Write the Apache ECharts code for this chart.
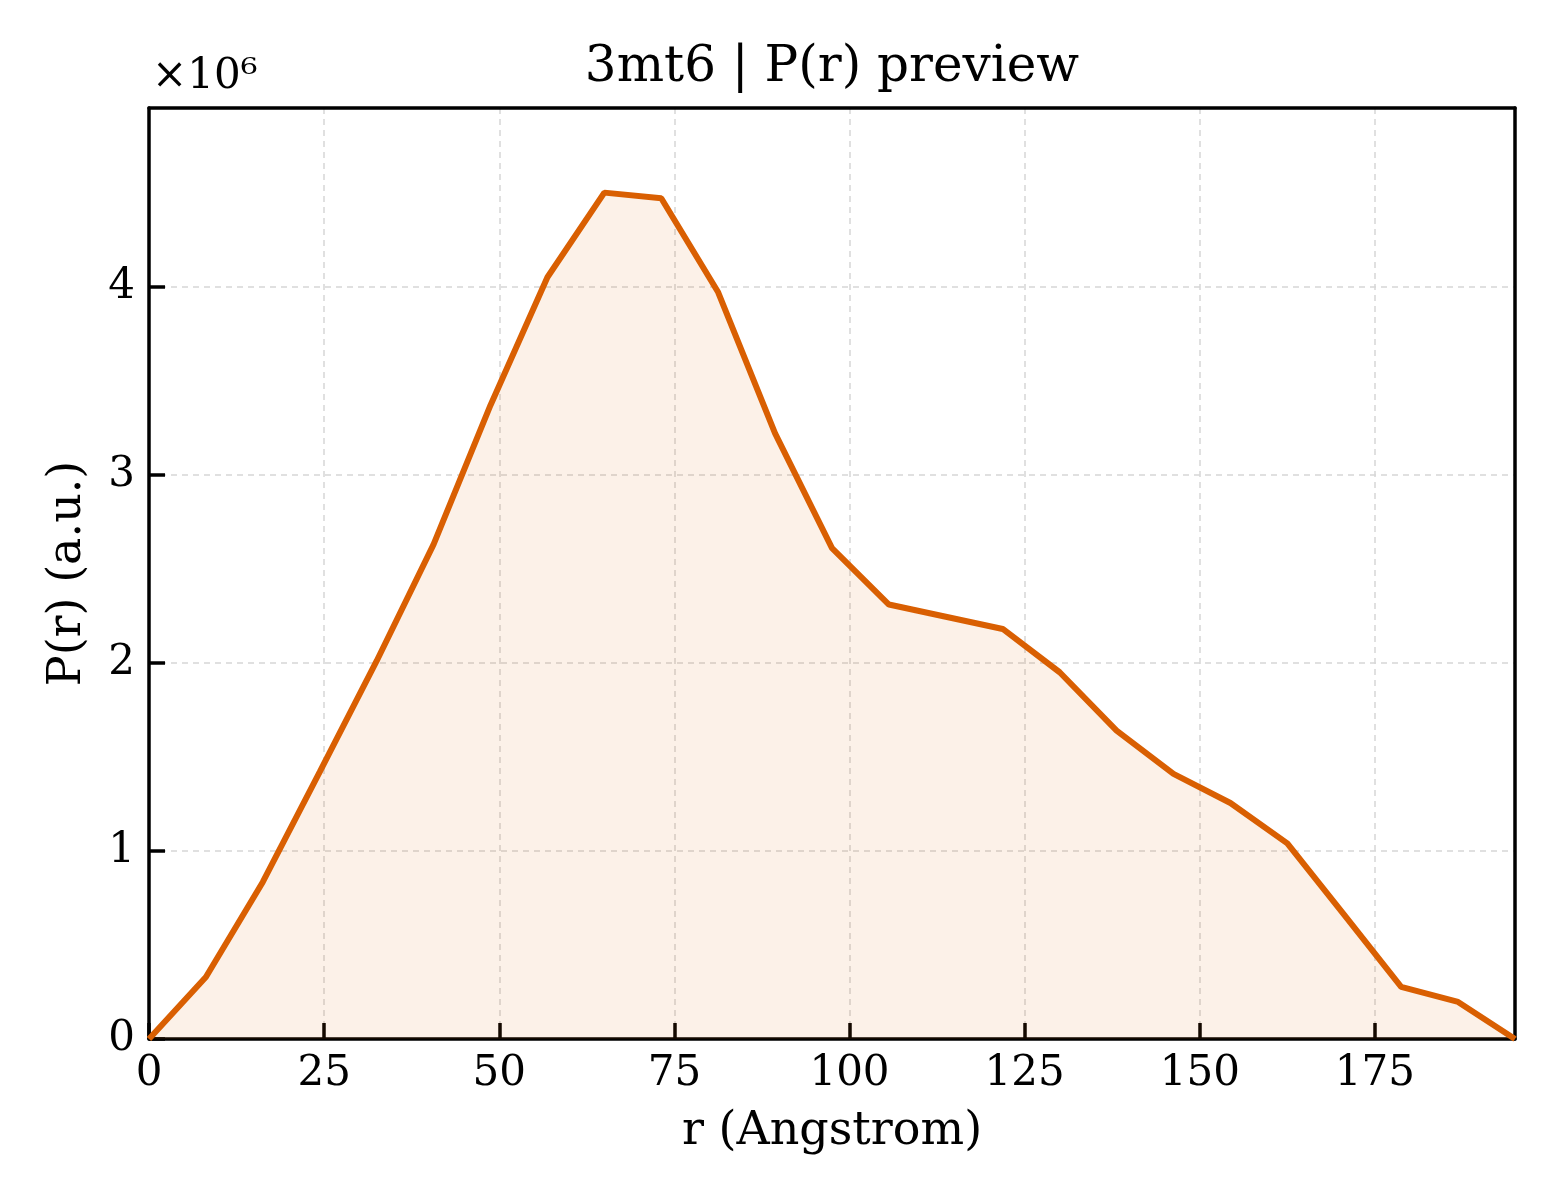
<!DOCTYPE html>
<html>
<head>
<meta charset="utf-8">
<title>3mt6 | P(r) preview</title>
<script src="https://cdn.jsdelivr.net/npm/echarts@6/dist/echarts.min.js"></script>
<style>
  html, body { margin: 0; padding: 0; background: #fff; }
  #chart { width: 1560px; height: 1200px; }
</style>
</head>
<body>
<div id="chart"></div>
<script>
// r in Angstrom, P(r) in arbitrary units
var rValues = [0, 8.125, 16.25, 24.375, 32.5, 40.625, 48.75, 56.875, 65, 73.125,
  81.25, 89.375, 97.5, 105.625, 113.75, 121.875, 130, 138.125, 146.25, 154.375,
  162.5, 170.625, 178.75, 186.875, 195];
var prValues = [0, 0.33e6, 0.835e6, 1.42e6, 2.01e6, 2.63e6, 3.37e6, 4.05e6, 4.50e6, 4.47e6,
  3.97e6, 3.22e6, 2.61e6, 2.31e6, 2.245e6, 2.18e6, 1.95e6, 1.64e6, 1.41e6, 1.255e6,
  1.04e6, 0.66e6, 0.277e6, 0.197e6, 0];

var FONT = '"DejaVu Serif", serif';
var LINE = '#d95f02';

var chart = echarts.init(document.getElementById('chart'));

var points = rValues.map(function (r, i) { return [r, prValues[i]]; });

var tick = { show: true, inside: true, length: 16, lineStyle: { color: '#000', width: 3.5 } };
var frameLine = { show: true, onZero: false, lineStyle: { color: '#000', width: 3.5 } };
var grid = { show: true, lineStyle: { color: '#d6d6d6', width: 1.5, type: [6, 5] } };

chart.setOption({
  animation: false,
  backgroundColor: '#ffffff',
  textStyle: { fontFamily: FONT },
  grid: { left: 149, right: 45, top: 108, bottom: 161 },
  graphic: [
    {
      type: 'text', x: 832, y: 68,
      style: {
        text: '3mt6 | P(r) preview', font: '50px ' + FONT, fill: '#000',
        textAlign: 'center', textVerticalAlign: 'middle'
      }
    },
    {
      type: 'text', x: 152, y: 56,
      style: { text: '×10⁶', font: '42px ' + FONT, fill: '#000' }
    }
  ],
  xAxis: [{
    type: 'value', min: 0, max: 195, interval: 25,
    name: 'r (Angstrom)', nameLocation: 'middle', nameGap: 70,
    nameTextStyle: { fontSize: 46, color: '#000', fontFamily: FONT },
    axisLine: frameLine,
    axisTick: tick,
    axisLabel: { fontSize: 42, color: '#000', margin: 14, showMaxLabel: false },
    splitLine: grid
  }, {
    type: 'value', min: 0, max: 195, position: 'top',
    axisLine: frameLine, axisTick: { show: false }, axisLabel: { show: false },
    splitLine: { show: false }
  }],
  yAxis: [{
    type: 'value', min: 0, max: 4.95e6, interval: 1e6,
    name: 'P(r) (a.u.)', nameLocation: 'middle', nameGap: 58,
    nameTextStyle: { fontSize: 46, color: '#000', fontFamily: FONT },
    axisLine: frameLine,
    axisTick: tick,
    axisLabel: {
      fontSize: 42, color: '#000', margin: 14, showMaxLabel: false,
      formatter: function (v) { return String(Math.round(v / 1e6)); }
    },
    splitLine: grid
  }, {
    type: 'value', min: 0, max: 4.95e6, position: 'right',
    axisLine: frameLine, axisTick: { show: false }, axisLabel: { show: false },
    splitLine: { show: false }
  }],
  series: [{
    type: 'line',
    data: points,
    symbol: 'none',
    lineStyle: { color: LINE, width: 6 },
    areaStyle: { color: 'rgba(217,95,2,0.13)' },
    z: 3
  }]
});
</script>
</body>
</html>
